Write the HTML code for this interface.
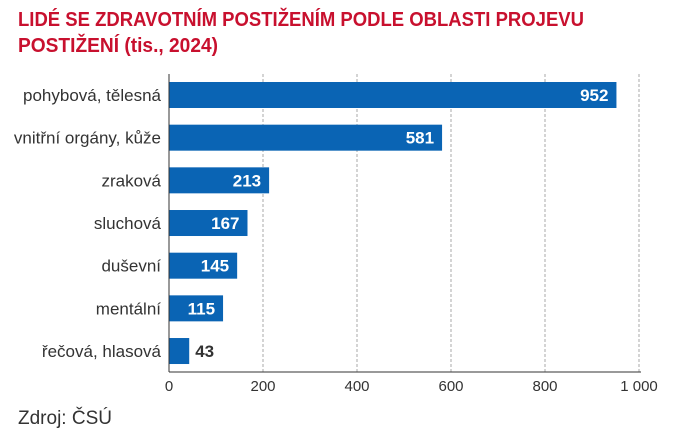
<!DOCTYPE html>
<html><head><meta charset="utf-8"><style>
body{margin:0;background:#fff;}
svg{display:block;font-family:"Liberation Sans Narrow","Liberation Sans",sans-serif;}
</style></head><body>
<svg id="chart" width="674" height="440" viewBox="0 0 674 440">
<text x="18" y="26" font-size="20" font-weight="bold" fill="#c8102e" textLength="566" lengthAdjust="spacingAndGlyphs">LIDÉ SE ZDRAVOTNÍM POSTIŽENÍM PODLE OBLASTI PROJEVU</text>
<text x="18" y="52" font-size="20" font-weight="bold" fill="#c8102e" textLength="200" lengthAdjust="spacingAndGlyphs">POSTIŽENÍ (tis., 2024)</text>
<g id="grid"></g><g id="bars"></g><g id="axes"></g>
<text x="18" y="424" font-size="19" fill="#333" font-family="Liberation Sans, sans-serif">Zdroj: ČSÚ</text>
</svg>
<script>
const categories=["pohybová, tělesná","vnitřní orgány, kůže","zraková","sluchová","duševní","mentální","řečová, hlasová"];
const values=[952,581,213,167,145,115,43];
const ticks=[0,200,400,600,800,1000];
const tickLabels=["0","200","400","600","800","1 000"];
const NS="http://www.w3.org/2000/svg";
const x0=169,x1=639,yTop=74,yBot=372,step=42.67,firstC=95,bh=26;
const xs=v=>x0+v/1000*(x1-x0);
const yc=i=>firstC+i*step;
function mk(t,a,p){const e=document.createElementNS(NS,t);for(const k in a)e.setAttribute(k,a[k]);p.appendChild(e);return e;}
const G=document.getElementById('grid'),B=document.getElementById('bars'),A=document.getElementById('axes');
ticks.forEach((t,i)=>{
 if(t>0){const l=mk('line',{x1:xs(t),x2:xs(t),y1:yTop,y2:yBot,stroke:'#aaa','stroke-dasharray':'3,2','stroke-width':1},G);
 
 }
 const tx=mk('text',{x:xs(t),y:391,'text-anchor':'middle','font-size':15,fill:'#333'},A);
 tx.textContent=tickLabels[i];
 
 
});
values.forEach((v,i)=>{
 const r=mk('rect',{x:x0,y:yc(i)-bh/2,width:xs(v)-x0,height:bh,fill:'#0a64b4'},B);
 
 
 const inside=(xs(v)-x0)>50;
 const t=mk('text',{x:inside?xs(v)-8:xs(v)+6,y:yc(i)+6,'text-anchor':inside?'end':'start','font-size':17,'font-weight':'bold',fill:inside?'#fff':'#333'},B);
 t.textContent=v;
 
 
 const c=mk('text',{x:x0-8,y:yc(i)+6,'text-anchor':'end','font-size':17,fill:'#333'},A);
 c.textContent=categories[i];
 
 
});
const ya=mk('line',{x1:x0,x2:x0,y1:yTop,y2:yBot,stroke:'#333','stroke-width':1},A);


const xa=mk('line',{x1:x0,x2:x1+2,y1:yBot,y2:yBot,stroke:'#333','stroke-width':1},A);


</script>
</body></html>
